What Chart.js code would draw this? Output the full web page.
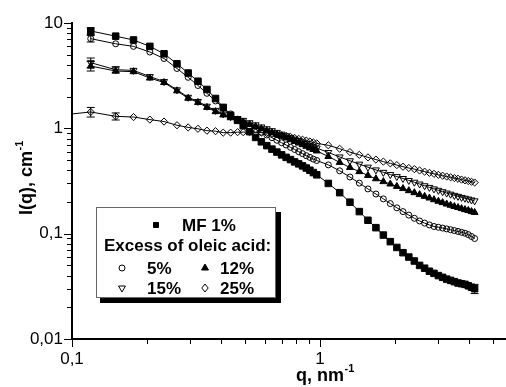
<!DOCTYPE html>
<html>
<head>
<meta charset="utf-8">
<script src="https://cdn.jsdelivr.net/npm/chart.js@4.4.0/dist/chart.umd.min.js"></script>
<style>
  html, body { margin: 0; padding: 0; background: #fff; }
  #box { width: 506px; height: 387px; }
</style>
</head>
<body>
<div id="box"><canvas id="sans-chart" width="506" height="387"></canvas></div>
<script>
// scattering vector, nm^-1
const q = [
  0.119, 0.150, 0.177, 0.206, 0.235, 0.265, 0.294, 0.322, 0.350, 0.379, 0.407, 0.436, 0.465,
  0.49, 0.52, 0.55, 0.58, 0.61, 0.64, 0.67, 0.70, 0.73, 0.76, 0.79, 0.82, 0.85, 0.88, 0.91, 0.94, 0.97,
  1.08, 1.20, 1.32, 1.44, 1.56, 1.68, 1.80, 1.92, 2.04, 2.16, 2.28, 2.40, 2.52, 2.64, 2.76, 2.88,
  3.00, 3.12, 3.24, 3.36, 3.48, 3.60, 3.72, 3.84, 3.96, 4.08, 4.20,
];

// I(q), cm^-1
const mf1 = [
  8.4, 7.5, 6.9, 6.0, 5.1, 4.1, 3.35, 2.8, 2.34, 1.92, 1.58, 1.33, 1.19,
  1.06, 0.93, 0.82, 0.745, 0.685, 0.635, 0.595, 0.56, 0.53, 0.505, 0.48, 0.46, 0.44, 0.42, 0.40, 0.38, 0.362,
  0.30, 0.245, 0.199, 0.162, 0.134, 0.114, 0.097, 0.084, 0.074, 0.066, 0.060, 0.055, 0.050, 0.047, 0.044, 0.042,
  0.040, 0.0385, 0.037, 0.036, 0.035, 0.034, 0.0335, 0.033, 0.032, 0.031, 0.030,
];
const oa5 = [
  7.1, 6.35, 6.0, 5.3, 4.6, 3.7, 3.05, 2.55, 2.15, 1.82, 1.57, 1.37, 1.22,
  1.13, 1.05, 0.98, 0.92, 0.865, 0.815, 0.77, 0.73, 0.695, 0.66, 0.63, 0.60, 0.575, 0.55, 0.53, 0.51, 0.495,
  0.45, 0.395, 0.345, 0.302, 0.266, 0.238, 0.214, 0.193, 0.176, 0.162, 0.150, 0.140, 0.132, 0.126, 0.121, 0.117,
  0.115, 0.113, 0.111, 0.109, 0.107, 0.105, 0.103, 0.101, 0.098, 0.094, 0.090,
];
const oa12 = [
  3.9, 3.5, 3.45, 3.0, 2.72, 2.27, 1.93, 1.76, 1.58, 1.44, 1.34, 1.26, 1.20,
  1.15, 1.09, 1.04, 0.99, 0.95, 0.91, 0.875, 0.84, 0.81, 0.78, 0.75, 0.725, 0.70, 0.675, 0.65, 0.63, 0.61,
  0.54, 0.475, 0.425, 0.388, 0.357, 0.332, 0.312, 0.296, 0.281, 0.268, 0.256, 0.245, 0.235, 0.226, 0.218, 0.21,
  0.203, 0.197, 0.191, 0.186, 0.181, 0.177, 0.173, 0.169, 0.166, 0.162, 0.159,
];
const oa15 = [
  4.2, 3.6, 3.55, 3.1, 2.78, 2.32, 1.97, 1.8, 1.62, 1.48, 1.37, 1.29, 1.24,
  1.19, 1.13, 1.08, 1.03, 0.99, 0.95, 0.915, 0.88, 0.85, 0.82, 0.79, 0.765, 0.74, 0.715, 0.69, 0.67, 0.65,
  0.59, 0.535, 0.492, 0.457, 0.428, 0.403, 0.382, 0.364, 0.348, 0.334, 0.32, 0.308, 0.296, 0.285, 0.275, 0.266,
  0.258, 0.25, 0.243, 0.237, 0.231, 0.226, 0.221, 0.217, 0.213, 0.209, 0.205,
];
const oa25 = [
  1.43, 1.30, 1.28, 1.21, 1.16, 1.07, 1.02, 0.99, 0.95, 0.94, 0.91, 0.91, 0.92,
  0.92, 0.92, 0.915, 0.91, 0.90, 0.89, 0.875, 0.86, 0.845, 0.83, 0.81, 0.795, 0.78, 0.765, 0.75, 0.735, 0.72,
  0.69, 0.64, 0.595, 0.56, 0.53, 0.505, 0.483, 0.465, 0.448, 0.432, 0.42, 0.41, 0.398, 0.388, 0.378, 0.37,
  0.362, 0.355, 0.349, 0.343, 0.337, 0.332, 0.326, 0.321, 0.316, 0.311, 0.306,
];
// fit of 25% reaches the axis
const fit25Lead = [1.37];

const seriesNames = ["MF 1%", "5%", "12%", "15%", "25%"];
const seriesValues = [mf1, oa5, oa12, oa15, oa25];

// [series, point, +/- error]
const errorBars = [
  [0, 0, 0.6], [1, 0, 0.5], [2, 0, 0.4], [3, 0, 0.45], [3, 1, 0.25],
  [4, 0, 0.15], [4, 1, 0.1], [0, 56, 0.003],
];

const xTickLabels = ["0,1", "1"];
const yTickLabels = ["0,01", "0,1", "1", "10"];

const legendTitle = "Excess of oleic acid:";

// marker looks per series
const marks = [
  { style: "rect", radius: 4.6, filled: true, rotation: 0 },
  { style: "circle", radius: 3, filled: false, rotation: 0 },
  { style: "triangle", radius: 4, filled: true, rotation: 0 },
  { style: "triangle", radius: 4, filled: false, rotation: 180 },
  { style: "rectRot", radius: 3.6, filled: false, rotation: 0 },
];

// markers near the edge should not shrink the plot area
Chart.registry.getController("scatter").prototype.getMaxOverflow = function () {
  return 0;
};

function mantissa(v) {
  const e = Math.floor(Math.log10(v) + 1e-9);
  const m = v / Math.pow(10, e);
  const r = Math.round(m);
  return Math.abs(m - r) < 1e-6 ? r : null;
}

function drawMark(ctx, style, x, y, r, filled) {
  ctx.beginPath();
  if (style === "rect") {
    ctx.rect(x - r, y - r, 2 * r, 2 * r);
  } else if (style === "circle") {
    ctx.arc(x, y, r, 0, Math.PI * 2);
  } else if (style === "up") {
    ctx.moveTo(x, y - r);
    ctx.lineTo(x + r * 0.87, y + r * 0.5);
    ctx.lineTo(x - r * 0.87, y + r * 0.5);
    ctx.closePath();
  } else if (style === "down") {
    ctx.moveTo(x, y + r);
    ctx.lineTo(x + r * 0.87, y - r * 0.5);
    ctx.lineTo(x - r * 0.87, y - r * 0.5);
    ctx.closePath();
  } else if (style === "diamond") {
    ctx.moveTo(x, y - r);
    ctx.lineTo(x + r * 0.8, y);
    ctx.lineTo(x, y + r);
    ctx.lineTo(x - r * 0.8, y);
    ctx.closePath();
  }
  ctx.lineWidth = 1;
  ctx.strokeStyle = "#000";
  if (filled) {
    ctx.fillStyle = "#000";
    ctx.fill();
  }
  ctx.stroke();
}

const extras = {
  id: "extras",
  afterDraw(chart) {
    const ctx = chart.ctx;
    const area = chart.chartArea;
    const xs = chart.scales.x;
    const ys = chart.scales.y;
    ctx.save();

    // tick marks, longer at decades
    ctx.strokeStyle = "#000";
    ctx.lineWidth = 1;
    xs.ticks.forEach((t) => {
      const m = mantissa(t.value);
      if (m === null || t.value > xs.max) return;
      const px = Math.round(xs.getPixelForValue(t.value)) + 0.5;
      const len = m === 1 ? 8 : 5;
      ctx.beginPath();
      ctx.moveTo(px, area.bottom);
      ctx.lineTo(px, area.bottom + len);
      ctx.stroke();
    });
    ys.ticks.forEach((t) => {
      const m = mantissa(t.value);
      if (m === null) return;
      const py = Math.round(ys.getPixelForValue(t.value)) + 0.5;
      const len = m === 1 ? 8 : 5;
      ctx.beginPath();
      ctx.moveTo(area.left, py);
      ctx.lineTo(area.left - len, py);
      ctx.stroke();
    });

    // error bars
    errorBars.forEach(([s, i, e]) => {
      const v = seriesValues[s][i];
      const px = xs.getPixelForValue(q[i]);
      const top = ys.getPixelForValue(v + e);
      const bot = ys.getPixelForValue(v - e);
      ctx.beginPath();
      ctx.moveTo(px, top);
      ctx.lineTo(px, bot);
      ctx.moveTo(px - 4, top);
      ctx.lineTo(px + 4, top);
      ctx.moveTo(px - 4, bot);
      ctx.lineTo(px + 4, bot);
      ctx.stroke();
    });

    // axis titles
    ctx.fillStyle = "#000";
    ctx.textBaseline = "alphabetic";
    ctx.textAlign = "left";
    const big = "bold 18px 'Liberation Sans', Arial, sans-serif";
    const small = "bold 11px 'Liberation Sans', Arial, sans-serif";

    ctx.font = big;
    const xw1 = ctx.measureText("q, nm").width;
    ctx.font = small;
    const xw2 = ctx.measureText("-1").width;
    let x0 = 325 - (xw1 + xw2) / 2;
    ctx.font = big;
    ctx.fillText("q, nm", x0, 381);
    ctx.font = small;
    ctx.fillText("-1", x0 + xw1 + 0.5, 372);

    ctx.save();
    ctx.translate(32, 178);
    ctx.rotate(-Math.PI / 2);
    ctx.font = big;
    const yw1 = ctx.measureText("I(q), cm").width;
    ctx.font = small;
    const yw2 = ctx.measureText("-1").width;
    const y0 = -(yw1 + yw2) / 2;
    ctx.font = big;
    ctx.fillText("I(q), cm", y0, 0);
    ctx.font = small;
    ctx.fillText("-1", y0 + yw1 + 0.5, -9);
    ctx.restore();

    // legend box with shadow
    ctx.fillStyle = "#000";
    ctx.fillRect(100, 212, 181, 91);
    ctx.fillStyle = "#fff";
    ctx.fillRect(96, 207, 180, 91);
    ctx.strokeStyle = "#666";
    ctx.lineWidth = 1;
    ctx.strokeRect(96.5, 207.5, 179, 90);

    const lf = "bold 17px 'Liberation Sans', Arial, sans-serif";
    ctx.font = lf;
    ctx.fillStyle = "#000";
    drawMark(ctx, "rect", 156, 225, 2.5, true);
    ctx.fillStyle = "#000";
    ctx.fillText(seriesNames[0], 182, 231);
    ctx.fillText(legendTitle, 104, 251);
    drawMark(ctx, "circle", 122, 268, 3, false);
    drawMark(ctx, "up", 205, 268, 4, true);
    drawMark(ctx, "down", 122, 288, 4, false);
    drawMark(ctx, "diamond", 205, 288, 4, false);
    ctx.fillStyle = "#000";
    ctx.fillText(seriesNames[1], 147, 274);
    ctx.fillText(seriesNames[2], 220, 274);
    ctx.fillText(seriesNames[3], 147, 294);
    ctx.fillText(seriesNames[4], 220, 294);

    ctx.restore();
  },
};

const datasets = seriesValues.map((vals, s) => ({
  label: seriesNames[s],
  data: q.map((x, i) => ({ x: x, y: vals[i] })),
  showLine: true,
  borderColor: "#000",
  borderWidth: 1,
  pointStyle: marks[s].style,
  pointRadius: marks[s].radius,
  pointRotation: marks[s].rotation,
  pointBorderColor: "#000",
  pointBorderWidth: 1,
  pointBackgroundColor: marks[s].filled ? "#000" : "rgba(0,0,0,0)",
}));

datasets.push({
  label: "fit 25% lead",
  data: [{ x: 0.1, y: fit25Lead[0] }, { x: q[0], y: oa25[0] }],
  showLine: true,
  borderColor: "#000",
  borderWidth: 1,
  pointRadius: 0,
});

const tickFont = { family: "'Liberation Sans', Arial, sans-serif", size: 17 };

const ctx = document.getElementById("sans-chart");
const sansChart = new Chart(ctx, {
  type: "scatter",
  data: { datasets: datasets },
  options: {
    responsive: false,
    animation: false,
    devicePixelRatio: 1,
    layout: { padding: { top: 23, right: 0, left: 0, bottom: 0 } },
    plugins: {
      legend: { display: false },
      tooltip: { enabled: false },
    },
    scales: {
      x: {
        type: "logarithmic",
        min: 0.1,
        max: 5.62,
        grid: { display: false, drawTicks: false },
        border: { display: true, color: "#000", width: 2 },
        ticks: {
          autoSkip: false,
          maxRotation: 0,
          padding: 10,
          color: "#000",
          font: tickFont,
          callback: (value) => {
            if (mantissa(value) !== 1) return "";
            return xTickLabels[Math.round(Math.log10(value)) + 1] || "";
          },
        },
        afterFit: (scale) => {
          scale.height = 48;
          scale.paddingLeft = 0;
          scale.paddingRight = 0;
        },
      },
      y: {
        type: "logarithmic",
        min: 0.01,
        max: 10,
        grid: { display: false, drawTicks: false },
        border: { display: true, color: "#000", width: 2 },
        ticks: {
          autoSkip: false,
          padding: 9,
          color: "#000",
          font: tickFont,
          callback: (value) => {
            if (mantissa(value) !== 1) return "";
            return yTickLabels[Math.round(Math.log10(value)) + 2] || "";
          },
        },
        afterFit: (scale) => { scale.width = 72; },
      },
    },
  },
  plugins: [extras],
});
</script>
</body>
</html>
